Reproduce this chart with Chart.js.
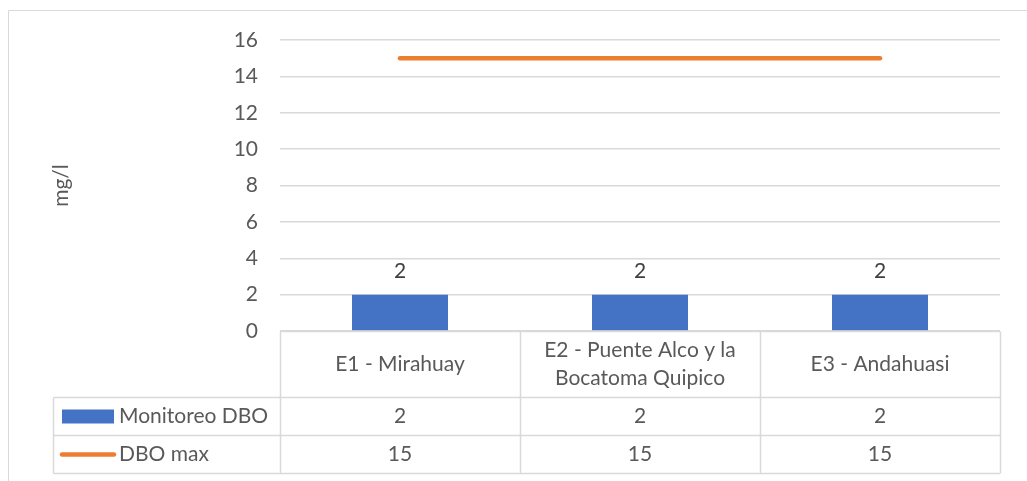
<!DOCTYPE html>
<html>
<head>
<meta charset="utf-8">
<script src="https://cdn.jsdelivr.net/npm/chart.js@4"></script>
<style>
  html, body { margin: 0; padding: 0; background: #fff; }
  #wrap { width: 1027px; height: 481px; }
</style>
</head>
<body>
<div id="wrap"><canvas id="chart"></canvas></div>
<script>
// data
const categories = [
    ['E1 - Mirahuay'],
    ['E2 - Puente Alco y la', 'Bocatoma Quipico'],
    ['E3 - Andahuasi']
];
const monitoreoDBO = [2, 2, 2];
const dboMax = [15, 15, 15];
const yTicks = [0, 2, 4, 6, 8, 10, 12, 14, 16];

const FONT = 'Lato, "Open Sans", sans-serif';
const TEXT = '#595959';
const LINE = '#d9d9d9';
const BLUE = '#4472c4';
const ORANGE = '#ed7d31';
const FS = 21;

// marco exterior del gráfico
const framePlugin = {
    id: 'frame',
    beforeDraw(chart) {
        const c = chart.ctx;
        c.save();
        c.fillStyle = '#fff';
        c.fillRect(0, 0, chart.width, chart.height);
        c.strokeStyle = LINE;
        c.lineWidth = 1;
        c.beginPath();
        c.moveTo(8.5, chart.height);
        c.lineTo(8.5, 10.5);
        c.lineTo(chart.width, 10.5);
        c.stroke();
        c.restore();
    }
};

// etiqueta de valor encima de cada barra
const barLabels = {
    id: 'barLabels',
    afterDatasetsDraw(chart) {
        const c = chart.ctx;
        const meta = chart.getDatasetMeta(0);
        c.save();
        c.font = FS + 'px ' + FONT;
        c.fillStyle = '#404040';
        c.textAlign = 'center';
        c.textBaseline = 'middle';
        meta.data.forEach((bar, i) => {
            c.fillText(String(monitoreoDBO[i]), bar.x, bar.y - 23);
        });
        c.restore();
    }
};

// tabla de datos debajo del eje
const dataTable = {
    id: 'dataTable',
    afterDraw(chart) {
        const c = chart.ctx;
        const area = chart.chartArea;
        const xs = chart.scales.x;
        const colW = (area.right - area.left) / categories.length;
        const legendLeft = 53.5;
        const y0 = Math.round(area.bottom) + 0.5;
        const y1 = y0 + 66;
        const y2 = y1 + 38;
        const y3 = y2 + 38;

        c.save();
        c.strokeStyle = LINE;
        c.lineWidth = 1.5;
        c.beginPath();
        c.moveTo(area.left, y0); c.lineTo(area.right, y0);
        [y1, y2, y3].forEach(y => { c.moveTo(legendLeft, y); c.lineTo(area.right, y); });
        c.moveTo(legendLeft, y1); c.lineTo(legendLeft, y3);
        for (let i = 0; i <= categories.length; i++) {
            const x = Math.round(area.left + i * colW) + 0.5;
            c.moveTo(x, y0); c.lineTo(x, y3);
        }
        c.stroke();

        c.font = FS + 'px ' + FONT;
        c.fillStyle = TEXT;
        c.textAlign = 'center';
        c.textBaseline = 'middle';
        categories.forEach((lines, i) => {
            const cx = xs.getPixelForValue(i);
            const mid = (y0 + y1) / 2;
            const lh = 28;
            lines.forEach((t, k) => {
                c.fillText(t, cx, mid + (k - (lines.length - 1) / 2) * lh);
            });
            c.fillText(String(monitoreoDBO[i]), cx, (y1 + y2) / 2);
            c.fillText(String(dboMax[i]), cx, (y2 + y3) / 2);
        });

        // leyenda dentro de la tabla
        c.fillStyle = BLUE;
        c.fillRect(62, (y1 + y2) / 2 - 7, 52, 14);
        c.strokeStyle = ORANGE;
        c.lineWidth = 4.5;
        c.lineCap = 'round';
        c.beginPath();
        c.moveTo(62, (y2 + y3) / 2);
        c.lineTo(114, (y2 + y3) / 2);
        c.stroke();
        c.fillStyle = TEXT;
        c.textAlign = 'left';
        c.fillText('Monitoreo DBO', 119, (y1 + y2) / 2);
        c.fillText('DBO max', 119, (y2 + y3) / 2);
        c.restore();
    }
};

new Chart(document.getElementById('chart'), {
    data: {
        labels: categories,
        datasets: [
            {
                type: 'bar',
                label: 'Monitoreo DBO',
                data: monitoreoDBO,
                backgroundColor: BLUE,
                categoryPercentage: 1,
                barPercentage: 0.4,
                order: 2
            },
            {
                type: 'line',
                label: 'DBO max',
                data: dboMax,
                borderColor: ORANGE,
                borderWidth: 4.5,
                borderCapStyle: 'round',
                pointRadius: 0,
                fill: false,
                order: 1
            }
        ]
    },
    options: {
        responsive: true,
        maintainAspectRatio: false,
        animation: false,
        layout: { padding: { top: 40, right: 27, bottom: 150, left: 45 } },
        plugins: {
            legend: { display: false },
            tooltip: { enabled: false }
        },
        scales: {
            x: {
                display: false,
                offset: true
            },
            y: {
                min: 0,
                max: 16,
                afterBuildTicks: (scale) => { scale.ticks = yTicks.map(v => ({ value: v })); },
                afterFit: (scale) => { scale.width = 235; },
                ticks: { color: TEXT, font: { family: FONT, size: FS }, padding: 22 },
                grid: { color: LINE, lineWidth: 1.5, drawTicks: false },
                border: { display: false },
                title: { display: true, text: 'mg/l', color: TEXT, font: { family: FONT, size: FS } }
            }
        }
    },
    plugins: [framePlugin, barLabels, dataTable]
});
</script>
</body>
</html>
